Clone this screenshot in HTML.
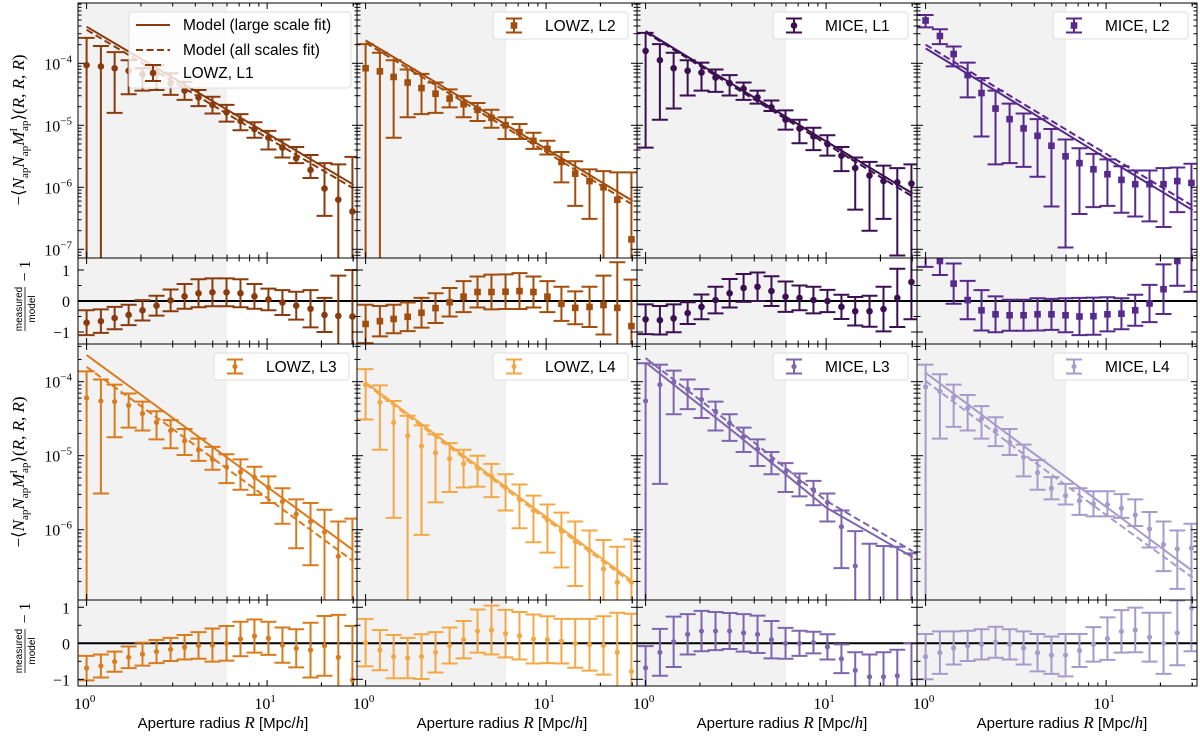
<!DOCTYPE html>
<html><head><meta charset="utf-8"><style>
html,body{margin:0;padding:0;background:#fff;}
svg{display:block;}
text{font-family:"Liberation Sans",sans-serif;}
.ser{font-family:"Liberation Serif",serif;}
</style></head><body>
<svg id="fig" width="1200" height="738" viewBox="0 0 1200 738" xmlns="http://www.w3.org/2000/svg"></svg>
<script>
// ---- data (log10 values for 3pt-correlator, linear for ratio) ----
const radii = [1.00,1.20,1.43,1.71,2.04,2.44,2.92,3.49,4.17,4.98,5.96,7.12,8.51,10.17,12.16,14.5,17.4,20.8,24.8,29.7];
const modelR = [1, 3.162, 10, 30.2];
const yTicksTop = [-4,-5,-6,-7];
const yTicksBot = [-4,-5,-6];
const ratioTicks = [1,0,-1];
const xTickLabels = ["0","1"];
const shadeMax = 6;

const lowz1Val=[-4.03,-4.05,-4.08,-4.12,-4.18,-4.16,-4.32,-4.44,-4.55,-4.67,-4.79,-4.93,-5.06,-5.20,-5.36,-5.53,-5.72,-6.02,-6.20,-6.39];
const lowz1Hi=[-3.59,-3.72,-3.82,-3.95,-4.08,-4.03,-4.16,-4.30,-4.43,-4.54,-4.67,-4.82,-4.95,-5.09,-5.23,-5.35,-5.48,-5.61,-5.63,-5.51];
const lowz1Lo=[-8,-8,-4.80,-4.50,-4.44,-4.43,-4.51,-4.59,-4.69,-4.81,-4.94,-5.08,-5.20,-5.39,-5.52,-5.61,-5.85,-6.46,-8,-8];
const lowz1Solid=[-3.41,-4.27,-5.13,-5.96];
const lowz1Dash=[-3.46,-4.33,-5.20,-6.02];
const lowz1Ratio=[-0.7,-0.65,-0.55,-0.45,-0.3,-0.15,0.02,0.15,0.25,0.28,0.28,0.25,0.15,0.05,-0.05,-0.15,-0.25,-0.45,-0.48,-0.5];
const lowz1RatioErr=[0.4,0.38,0.36,0.33,0.33,0.32,0.35,0.4,0.45,0.45,0.45,0.45,0.4,0.35,0.4,0.45,0.6,0.55,1.3,1.5];

const lowz2Val=[-4.08,-4.13,-4.22,-4.31,-4.40,-4.49,-4.57,-4.66,-4.75,-4.88,-5.00,-5.11,-5.25,-5.38,-5.59,-5.78,-5.90,-6.00,-6.20,-6.84];
const lowz2Hi=[-3.69,-3.83,-3.95,-4.10,-4.17,-4.31,-4.42,-4.53,-4.64,-4.75,-4.87,-4.98,-5.12,-5.25,-5.43,-5.58,-5.71,-5.74,-5.76,-5.76];
const lowz2Lo=[-8,-8,-5.20,-4.87,-4.82,-4.80,-4.71,-4.87,-4.93,-5.04,-5.22,-5.22,-5.38,-5.47,-5.92,-6.30,-6.51,-8,-8,-8];
const lowz2Solid=[-3.63,-4.50,-5.38,-6.22];
const lowz2Dash=[-3.67,-4.55,-5.43,-6.28];
const lowz2Ratio=[-0.74,-0.65,-0.58,-0.51,-0.38,-0.23,-0.04,0.14,0.29,0.29,0.30,0.32,0.29,0.14,-0.09,-0.22,-0.19,-0.13,-0.22,-0.81];
const lowz2RatioErr=[0.62,0.49,0.46,0.46,0.48,0.48,0.46,0.5,0.5,0.56,0.56,0.58,0.5,0.5,0.55,0.53,0.65,0.95,1.47,1.5];

const mice1Val=[-3.80,-3.95,-4.08,-4.12,-4.15,-4.23,-4.32,-4.41,-4.55,-4.71,-4.91,-5.05,-5.18,-5.30,-5.49,-5.69,-5.81,-5.90,-5.92,-5.94];
const mice1Hi=[-3.51,-3.69,-3.83,-3.95,-3.99,-4.10,-4.19,-4.31,-4.44,-4.60,-4.76,-4.91,-5.04,-5.16,-5.35,-5.52,-5.59,-5.65,-5.69,-5.63];
const mice1Lo=[-5.36,-4.91,-4.73,-4.52,-4.44,-4.46,-4.52,-4.59,-4.65,-4.77,-5.07,-5.29,-5.40,-5.49,-5.74,-6.36,-6.70,-6.51,-7.1,-8];
const mice1Solid=[-3.48,-4.37,-5.26,-6.10];
const mice1Dash=[-3.50,-4.40,-5.30,-6.15];
const mice1Ratio=[-0.59,-0.62,-0.56,-0.39,-0.19,0.03,0.25,0.42,0.46,0.32,0.14,0.10,0.03,0,-0.19,-0.33,-0.33,-0.26,0.10,0.61];
const mice1RatioErr=[0.48,0.46,0.45,0.35,0.4,0.43,0.46,0.45,0.46,0.48,0.49,0.4,0.43,0.36,0.39,0.46,0.5,0.72,0.94,1.2];

const mice2Val=[-3.31,-3.56,-3.85,-4.19,-4.48,-4.73,-4.90,-5.05,-5.17,-5.33,-5.50,-5.61,-5.71,-5.79,-5.88,-5.95,-5.95,-5.95,-5.90,-5.93];
const mice2Hi=[-3.22,-3.45,-3.73,-3.99,-4.24,-4.44,-4.65,-4.81,-4.90,-5.06,-5.23,-5.37,-5.46,-5.55,-5.66,-5.73,-5.73,-5.69,-5.68,-5.62];
const mice2Lo=[-3.42,-3.69,-4.05,-4.55,-5.18,-5.63,-5.61,-5.67,-5.83,-6.31,-6.97,-6.43,-6.32,-6.30,-6.41,-6.47,-6.55,-6.64,-6.40,-8];
const mice2Solid=[-3.76,-4.64,-5.53,-6.37];
const mice2Dash=[-3.70,-4.58,-5.46,-6.30];
const mice2Ratio=[1.6,1.29,0.56,0.03,-0.3,-0.43,-0.46,-0.46,-0.43,-0.43,-0.46,-0.5,-0.49,-0.43,-0.41,-0.3,-0.08,0.38,1.29,1.8];
const mice2RatioErr=[0.5,0.45,0.65,0.62,0.65,0.58,0.5,0.5,0.52,0.5,0.55,0.6,0.6,0.55,0.5,0.5,0.6,0.8,0.8,1.5];

const lowz3Val=[-4.22,-4.26,-4.27,-4.32,-4.43,-4.55,-4.66,-4.80,-4.92,-5.05,-5.15,-5.22,-5.29,-5.43,-5.62,-5.79,-5.89,-6.03,-6.36,-7.5];
const lowz3Hi=[-3.86,-3.97,-4.04,-4.16,-4.27,-4.40,-4.52,-4.64,-4.77,-4.88,-4.98,-5.05,-5.15,-5.28,-5.44,-5.59,-5.64,-5.73,-5.89,-5.85];
const lowz3Lo=[-8,-5.51,-4.75,-4.62,-4.66,-4.78,-4.90,-4.99,-5.07,-5.19,-5.37,-5.46,-5.53,-5.64,-5.92,-6.25,-6.48,-8,-8,-8];
const lowz3Solid=[-3.64,-4.53,-5.42,-6.28];
const lowz3Dash=[-3.80,-4.68,-5.57,-6.43];
const lowz3Ratio=[-0.69,-0.63,-0.51,-0.39,-0.30,-0.23,-0.17,-0.11,-0.06,-0.05,0,0.12,0.20,0.14,-0.05,-0.14,-0.19,-0.07,-0.39,-1.02];
const lowz3RatioErr=[0.34,0.32,0.28,0.3,0.32,0.32,0.32,0.34,0.37,0.46,0.48,0.48,0.46,0.46,0.49,0.53,0.76,0.83,1.18,1.5];

const lowz4Val=[-4.04,-4.28,-4.55,-4.73,-4.87,-4.96,-5.04,-5.11,-5.16,-5.28,-5.43,-5.59,-5.74,-5.87,-6.02,-6.16,-6.28,-6.53,-6.71,-6.71];
const lowz4Hi=[-3.83,-4.05,-4.26,-4.46,-4.59,-4.71,-4.83,-4.92,-5.00,-5.11,-5.25,-5.39,-5.54,-5.66,-5.77,-5.89,-6.01,-6.14,-6.23,-6.13];
const lowz4Lo=[-4.51,-4.92,-5.84,-8,-6.07,-5.63,-5.49,-5.43,-5.42,-5.56,-5.74,-5.98,-6.17,-6.31,-6.51,-6.76,-8,-8,-8,-8];
const lowz4Solid=[-4.01,-4.92,-5.83,-6.70];
const lowz4Dash=[-4.03,-4.95,-5.86,-6.73];
const lowz4Ratio=[0.02,-0.19,-0.37,-0.41,-0.37,-0.25,-0.06,0.1,0.34,0.37,0.27,0.21,0.12,0.1,0.06,0,-0.04,-0.06,-0.25,-0.78];
const lowz4RatioErr=[0.66,0.56,0.6,0.56,0.62,0.56,0.5,0.52,0.6,0.68,0.66,0.66,0.68,0.65,0.62,0.68,0.72,0.81,1.1,1.6];

const mice3Val=[-4.26,-4.04,-4.01,-4.10,-4.24,-4.40,-4.56,-4.74,-4.91,-5.07,-5.22,-5.35,-5.46,-5.63,-5.96,-6.49,-7.3,-7.3,-7.3,-7.3];
const mice3Hi=[-3.75,-3.77,-3.85,-3.97,-4.10,-4.27,-4.44,-4.62,-4.78,-4.95,-5.10,-5.24,-5.34,-5.51,-5.74,-6.02,-6.19,-6.22,-6.23,-6.32];
const mice3Lo=[-8,-5.38,-4.44,-4.37,-4.49,-4.66,-4.80,-4.95,-5.14,-5.25,-5.49,-5.55,-5.67,-5.89,-6.52,-8,-8,-8,-8,-8];
const mice3Solid=[-3.74,-4.70,-5.70,-6.37];
const mice3Dash=[-3.68,-4.62,-5.61,-6.29];
const mice3Ratio=[-0.68,-0.25,0.04,0.25,0.34,0.34,0.34,0.29,0.25,0.1,0,0,0.02,-0.1,-0.43,-0.75,-0.93,-0.93,-0.9,-1.5];
const mice3RatioErr=[0.6,0.65,0.7,0.56,0.56,0.53,0.5,0.52,0.52,0.52,0.43,0.35,0.3,0.35,0.4,0.5,0.62,0.68,0.72,1.5];

const mice4Val=[-4.07,-4.13,-4.21,-4.36,-4.50,-4.66,-4.82,-5.02,-5.23,-5.44,-5.54,-5.61,-5.65,-5.66,-5.71,-5.80,-5.99,-6.20,-6.26,-6.25];
const mice4Hi=[-3.77,-3.90,-4.04,-4.18,-4.33,-4.48,-4.64,-4.85,-5.06,-5.29,-5.38,-5.44,-5.48,-5.48,-5.52,-5.59,-5.76,-5.89,-6.01,-5.92];
const mice4Lo=[-8,-4.77,-4.61,-4.66,-4.77,-4.87,-4.99,-5.28,-5.46,-5.59,-5.66,-5.80,-5.82,-5.82,-5.84,-5.95,-6.24,-6.56,-6.80,-8];
const mice4Solid=[-3.88,-4.79,-5.69,-6.56];
const mice4Dash=[-3.99,-4.90,-5.80,-6.65];
const mice4Ratio=[-0.37,-0.26,-0.13,-0.07,-0.03,0.03,-0.03,-0.13,-0.26,-0.33,-0.33,-0.2,-0.03,0.13,0.33,0.37,0.17,0,0.29,0.98];
const mice4RatioErr=[0.63,0.59,0.46,0.42,0.42,0.43,0.42,0.46,0.52,0.52,0.59,0.46,0.48,0.59,0.59,0.62,0.68,0.85,0.9,1.2];

// ---- layout ----
const NS="http://www.w3.org/2000/svg";
const svg=document.getElementById('fig');
const colLeft=[78,357,637,917], colW=280, xOff=8.6, dec=180.5;
const rowsMain=[[3,258],[344,600]], rowsRatio=[[258,344],[600,686]];
function xScale(c,R){return colLeft[c]+xOff+Math.log10(R)*dec;}
function yMain(r,lg){return r===0? 63.3-(lg+4)*62 : 381.7-(lg+4)*74;}
function yRatio(r,v){return r===0? 301-v*31 : 643.3-v*36;}
function mk(tag,attrs,parent){const e=document.createElementNS(NS,tag);for(const k in attrs)e.setAttribute(k,attrs[k]);(parent||svg).appendChild(e);return e;}

const defs=mk('defs',{});
let clipN=0;
function panelGroup(c,y0,y1,name){
  const id='cp'+(clipN++);
  const cp=mk('clipPath',{id:id},defs);
  mk('rect',{x:colLeft[c],y:y0,width:colW,height:y1-y0},cp);
  const g=mk('g',{'clip-path':'url(#'+id+')'});
  
  
  const sh=mk('rect',{x:colLeft[c],y:y0,width:xScale(c,shadeMax)-colLeft[c],height:y1-y0,fill:'#f2f2f2'},g);
  
  
  return g;
}
function frame(c,y0,y1,ticksY,yfn,major,name){
  const g=mk('g',{stroke:'#000','stroke-width':1,fill:'none'});
  
  
  const L=colLeft[c],Rr=L+colW;
  const xs=[];
  for(let d=0;d<2;d++)for(let m=1;m<10;m++)xs.push([m*Math.pow(10,d),m===1]);
  xs.push([20,false]);xs.push([30,false]);xs.push([40,false]);
  xs.forEach(([R,maj])=>{const x=xScale(c,R);if(x<L||x>Rr)return;const l=maj?6:3.5;
    mk('line',{x1:x,y1:y0,x2:x,y2:y0+l},g);mk('line',{x1:x,y1:y1,x2:x,y2:y1-l},g);});
  if(major){
    for(let d=-8;d<=-2;d++){
      for(let m=1;m<10;m++){const y=yfn(d+Math.log10(m));if(y<y0||y>y1)continue;const l=m===1?6:3.5;
        mk('line',{x1:L,y1:y,x2:L+l,y2:y},g);mk('line',{x1:Rr,y1:y,x2:Rr-l,y2:y},g);}
    }
  } else {
    ticksY.forEach(v=>{const y=yfn(v);mk('line',{x1:L,y1:y,x2:L+6,y2:y},g);mk('line',{x1:Rr,y1:y,x2:Rr-6,y2:y},g);});
    [-0.5,0.5].forEach(v=>{const y=yfn(v);mk('line',{x1:L,y1:y,x2:L+3.5,y2:y},g);mk('line',{x1:Rr,y1:y,x2:Rr-3.5,y2:y},g);});
  }
  mk('rect',{x:L,y:y0,width:colW,height:y1-y0},g);
}
function marker(g,x,y,type,color){
  let e;
  if(type==='sq') e=mk('rect',{x:x-3.3,y:y-3.3,width:6.6,height:6.6,fill:color},g);
  else e=mk('circle',{cx:x,cy:y,r:type==='sm'?2.6:3.3,fill:color},g);
  return e;
}
function errbar(g,x,ya,yb,color){
  mk('line',{x1:x,y1:ya,x2:x,y2:yb,stroke:color,'stroke-width':2},g);
  mk('line',{x1:x-8,y1:ya,x2:x+8,y2:ya,stroke:color,'stroke-width':2},g);
  mk('line',{x1:x-8,y1:yb,x2:x+8,y2:yb,stroke:color,'stroke-width':2},g);
}
function drawModel(g,c,r,arr,dash,color,name){
  const pts=modelR.map((R,i)=>xScale(c,R).toFixed(1)+','+yMain(r,arr[i]).toFixed(1)).join(' ');
  const p=mk('polyline',{points:pts,fill:'none',stroke:color,'stroke-width':2,'stroke-dasharray':dash?'7,3.5':'none'},g);
  
  
}
function panel(c,r,val,hi,lo,solid,dash,ratio,ratioErr,color,mtype,label){
  const key=label.toLowerCase().replace(/[^a-z0-9]+/g,'-');
  const [m0,m1]=rowsMain[r];
  const g=panelGroup(c,m0,m1,'panel-'+key);
  drawModel(g,c,r,solid,false,color,'model-large-scale-'+key);
  drawModel(g,c,r,dash,true,color,'model-all-scales-'+key);
  radii.forEach((R,i)=>{
    const x=xScale(c,R);
    const eg=mk('g',{},g);
    
    
    errbar(eg,x,yMain(r,hi[i]),yMain(r,lo[i]),color);
    marker(eg,x,yMain(r,val[i]),mtype,color);
  });
  frame(c,m0,m1,null,v=>yMain(r,v),true,'axes-frame-'+key);
  const [q0,q1]=rowsRatio[r];
  const gr=panelGroup(c,q0,q1,'ratio-panel-'+key);
  const zl=mk('line',{x1:colLeft[c],x2:colLeft[c]+colW,y1:yRatio(r,0),y2:yRatio(r,0),stroke:'#000','stroke-width':2},gr);
  
  
  radii.forEach((R,i)=>{
    const x=xScale(c,R);
    const eg=mk('g',{},gr);
    
    
    errbar(eg,x,yRatio(r,ratio[i]+ratioErr[i]),yRatio(r,ratio[i]-ratioErr[i]),color);
    marker(eg,x,yRatio(r,ratio[i]),mtype,color);
  });
  frame(c,q0,q1,ratioTicks,v=>yRatio(r,v),false,'ratio-frame-'+key);
  if(!(c===0&&r===0)){
    const lx=colLeft[c]+136, ly=m0+9;
    const lg=mk('g',{});
    
    
    mk('rect',{x:lx,y:ly,width:135,height:27,rx:3,fill:'#fff','fill-opacity':0.85,stroke:'#ddd'},lg);
    const mx=lx+21,my=ly+13.5;
    mk('line',{x1:mx,y1:my-7,x2:mx,y2:my+7,stroke:color,'stroke-width':2},lg);
    mk('line',{x1:mx-8,y1:my-7,x2:mx+8,y2:my-7,stroke:color,'stroke-width':2},lg);
    mk('line',{x1:mx-8,y1:my+7,x2:mx+8,y2:my+7,stroke:color,'stroke-width':2},lg);
    marker(lg,mx,my,mtype,color);
    const t=mk('text',{x:lx+52,y:my+5.5,'font-size':15.5,fill:'#000'},lg);t.textContent=label;
  }
}
const C={l1:'#8a3b0d',l2:'#a24d0c',l3:'#d97b1d',l4:'#f4a845',m1:'#3b0f50',m2:'#57298c',m3:'#7d66ad',m4:'#a69ccb'};
panel(0,0,lowz1Val,lowz1Hi,lowz1Lo,lowz1Solid,lowz1Dash,lowz1Ratio,lowz1RatioErr,C.l1,'c','LOWZ, L1');
panel(1,0,lowz2Val,lowz2Hi,lowz2Lo,lowz2Solid,lowz2Dash,lowz2Ratio,lowz2RatioErr,C.l2,'sq','LOWZ, L2');
panel(2,0,mice1Val,mice1Hi,mice1Lo,mice1Solid,mice1Dash,mice1Ratio,mice1RatioErr,C.m1,'c','MICE, L1');
panel(3,0,mice2Val,mice2Hi,mice2Lo,mice2Solid,mice2Dash,mice2Ratio,mice2RatioErr,C.m2,'sq','MICE, L2');
panel(0,1,lowz3Val,lowz3Hi,lowz3Lo,lowz3Solid,lowz3Dash,lowz3Ratio,lowz3RatioErr,C.l3,'sm','LOWZ, L3');
panel(1,1,lowz4Val,lowz4Hi,lowz4Lo,lowz4Solid,lowz4Dash,lowz4Ratio,lowz4RatioErr,C.l4,'sm','LOWZ, L4');
panel(2,1,mice3Val,mice3Hi,mice3Lo,mice3Solid,mice3Dash,mice3Ratio,mice3RatioErr,C.m3,'sm','MICE, L3');
panel(3,1,mice4Val,mice4Hi,mice4Lo,mice4Solid,mice4Dash,mice4Ratio,mice4RatioErr,C.m4,'sm','MICE, L4');

(function(){
  const lg=mk('g',{});
  
  
  mk('rect',{x:129,y:12,width:222,height:76,rx:3,fill:'#fff','fill-opacity':0.8,stroke:'#ddd'},lg);
  mk('line',{x1:136,y1:25,x2:170,y2:25,stroke:C.l1,'stroke-width':2},lg);
  mk('line',{x1:136,y1:50,x2:170,y2:50,stroke:C.l1,'stroke-width':2,'stroke-dasharray':'7,3.5'},lg);
  const mx=153,my=73;
  mk('line',{x1:mx,y1:my-8,x2:mx,y2:my+8,stroke:C.l1,'stroke-width':2},lg);
  mk('line',{x1:mx-8,y1:my-8,x2:mx+8,y2:my-8,stroke:C.l1,'stroke-width':2},lg);
  mk('line',{x1:mx-8,y1:my+8,x2:mx+8,y2:my+8,stroke:C.l1,'stroke-width':2},lg);
  mk('circle',{cx:mx,cy:my,r:3.3,fill:C.l1},lg);
  [['Model (large scale fit)',30],['Model (all scales fit)',55],['LOWZ, L1',78]].forEach(([s,y])=>{
    const t=mk('text',{x:183,y:y,'font-size':15.5,fill:'#000'},lg);t.textContent=s;});
})();

function ytl(y,exp,name){
  const t=mk('text',{x:72,y:y+6,'font-size':16,'text-anchor':'end',class:'ser'});
  
  
  t.innerHTML='10<tspan dy="-7" font-size="11">−'+exp+'</tspan>';
}
yTicksTop.forEach(v=>ytl(yMain(0,v),-v,'y-tick-label'));
yTicksBot.forEach(v=>ytl(yMain(1,v),-v,'y-tick-label'));
[0,1].forEach(r=>ratioTicks.forEach(v=>{
  const t=mk('text',{x:70,y:yRatio(r,v)+6,'font-size':16,'text-anchor':'end',class:'ser'});
  
  
  t.textContent=v<0?'−'+(-v):String(v);
}));
for(let c=0;c<4;c++){
  xTickLabels.forEach((e,i)=>{
    const t=mk('text',{x:xScale(c,Math.pow(10,i))-2,y:709,'font-size':16,'text-anchor':'middle',class:'ser'});
    
    
    t.innerHTML='10<tspan dy="-7" font-size="11">'+e+'</tspan>';
  });
  const t=mk('text',{x:colLeft[c]+colW/2+5,y:728,'font-size':15,'text-anchor':'middle'});
  
  
  t.innerHTML='Aperture radius <tspan font-family="Liberation Serif" font-style="italic" font-size="17">R</tspan> [Mpc/<tspan font-family="Liberation Serif" font-style="italic" font-size="17">h</tspan>]';
}
[130,472].forEach(cy=>{
  const t=mk('text',{x:0,y:0,'font-size':17,'text-anchor':'middle',class:'ser',transform:'translate(24,'+cy+') rotate(-90)'});
  
  
  t.innerHTML='−⟨<tspan font-style="italic">N</tspan><tspan font-size="11" dy="4">ap</tspan><tspan dy="-4" font-style="italic">N</tspan><tspan font-size="11" dy="4">ap</tspan><tspan dy="-4" font-style="italic">M</tspan><tspan font-size="11" dy="-7">I</tspan><tspan font-size="11" dx="-3" dy="11">ap</tspan><tspan dy="-4">⟩(</tspan><tspan font-style="italic">R</tspan>, <tspan font-style="italic">R</tspan>, <tspan font-style="italic">R</tspan>)';
});
[301,643].forEach(cy=>{
  const g=mk('g',{transform:'translate(26,'+cy+') rotate(-90)'});
  
  
  const a=mk('text',{x:-8,y:-4,'font-size':10,'text-anchor':'middle'},g);a.textContent='measured';
  mk('line',{x1:-30,y1:-1,x2:14,y2:-1,stroke:'#000','stroke-width':0.8},g);
  const b=mk('text',{x:-8,y:9,'font-size':10,'text-anchor':'middle'},g);b.textContent='model';
  const d=mk('text',{x:30,y:4,'font-size':16,'text-anchor':'middle',class:'ser'},g);d.textContent='− 1';
});
</script>
</body></html>
